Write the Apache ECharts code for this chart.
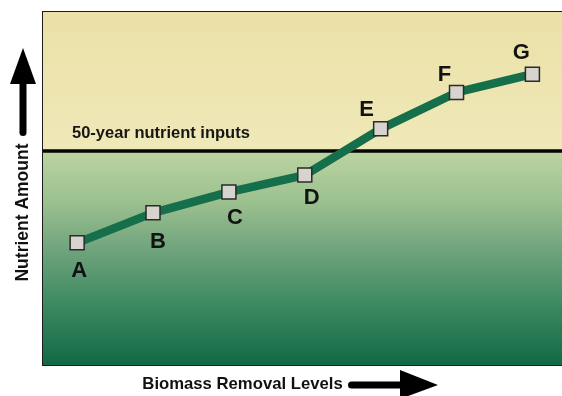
<!DOCTYPE html>
<html>
<head>
<meta charset="utf-8">
<style>
  html, body { margin: 0; padding: 0; background: #ffffff; }
  #chart { width: 562px; height: 396px; }
</style>
<script src="https://cdn.jsdelivr.net/npm/echarts@6/dist/echarts.min.js"></script>
</head>
<body>
<div id="chart"></div>
<script>
// Point names and their removal level / nutrient amount
const levelNames = ['A', 'B', 'C', 'D', 'E', 'F', 'G'];
const removalLevels = [1, 2, 3, 4, 5, 6, 7];
const nutrientAmounts = [34.6, 43.1, 49.0, 53.8, 66.9, 77.2, 82.4];
// Nutrients supplied over 50 years
const nutrientInputs = 60.6;
const inputsLabel = '50-year nutrient inputs';
const xTitle = 'Biomass Removal Levels';
const yTitle = 'Nutrient Amount';

// Where each letter sits relative to its marker
const labelOffsets = [[2, 28], [5, 29], [6, 26], [7, 23], [-14, -19], [-12, -18], [-11, -21]];

const FONT = 'Liberation Sans, Arial, sans-serif';

const points = removalLevels.map((x, i) => ({
  value: [x, nutrientAmounts[i]],
  name: levelNames[i],
  label: { offset: labelOffsets[i] }
}));

const chart = echarts.init(document.getElementById('chart'), null, { renderer: 'canvas' });

chart.setOption({
  animation: false,
  grid: {
    left: 43, top: 12, right: -3, bottom: 31,
    show: true,
    borderColor: '#1c1c1c',
    borderWidth: 2,
    backgroundColor: 'transparent'
  },
  xAxis: {
    type: 'value', min: 0.55, max: 7.39,
    axisLine: { show: false }, axisTick: { show: false },
    axisLabel: { show: false }, splitLine: { show: false }
  },
  yAxis: {
    type: 'value', min: 0, max: 100,
    axisLine: { show: false }, axisTick: { show: false },
    axisLabel: { show: false }, splitLine: { show: false }
  },
  series: [{
    type: 'line',
    data: points,
    symbol: 'rect',
    symbolSize: 14,
    itemStyle: { color: '#d7d3cf', borderColor: '#2b2b2b', borderWidth: 1.5 },
    lineStyle: { color: '#166f4b', width: 8.5 },
    z: 5,
    label: {
      show: true,
      position: 'inside',
      formatter: p => p.name,
      fontFamily: FONT,
      fontWeight: 'bold',
      fontSize: 22,
      color: '#121212'
    },
    markArea: {
      silent: true,
      data: [
        [
          { yAxis: nutrientInputs, itemStyle: {
            color: new echarts.graphic.LinearGradient(0, 0, 0, 1, [
              { offset: 0, color: '#ebe1a7' },
              { offset: 1, color: '#efe8b8' }
            ]) } },
          { yAxis: 100 }
        ],
        [
          { yAxis: 0, itemStyle: {
            color: new echarts.graphic.LinearGradient(0, 0, 0, 1, [
              { offset: 0, color: '#bcd4a2' },
              { offset: 0.23, color: '#9dc190' },
              { offset: 0.46, color: '#70a47d' },
              { offset: 0.70, color: '#408b62' },
              { offset: 1, color: '#106a46' }
            ]) } },
          { yAxis: nutrientInputs }
        ]
      ]
    },
    markLine: {
      silent: true,
      symbol: 'none',
      lineStyle: { color: '#050505', width: 3.5, type: 'solid' },
      label: {
        show: true,
        position: 'insideStartTop',
        distance: [29, 9],
        formatter: inputsLabel,
        fontFamily: FONT,
        fontWeight: 'bold',
        fontSize: 16.5,
        color: '#161616'
      },
      data: [{ yAxis: nutrientInputs }]
    }
  }],
  graphic: [
    // upward arrow beside the vertical title
    {
      type: 'polygon',
      shape: { points: [[23, 48], [36, 84], [10, 84]] },
      style: { fill: '#000' }
    },
    {
      type: 'rect',
      shape: { x: 19.5, y: 80, width: 7, height: 56, r: 3.5 },
      style: { fill: '#000' }
    },
    {
      type: 'text',
      x: 23, y: 212.5, rotation: Math.PI / 2,
      style: {
        text: yTitle, fontFamily: FONT, fontWeight: 'bold', fontSize: 17.5,
        fill: '#111', align: 'center', verticalAlign: 'middle'
      }
    },
    // horizontal title with its arrow
    {
      type: 'text',
      x: 242.5, y: 384,
      style: {
        text: xTitle, fontFamily: FONT, fontWeight: 'bold', fontSize: 16.7,
        fill: '#111', align: 'center', verticalAlign: 'middle'
      }
    },
    {
      type: 'rect',
      shape: { x: 348, y: 381.5, width: 56, height: 7, r: 3.5 },
      style: { fill: '#000' }
    },
    {
      type: 'polygon',
      shape: { points: [[400, 370], [438, 385], [400, 399]] },
      style: { fill: '#000' }
    }
  ]
});
</script>
</body>
</html>
